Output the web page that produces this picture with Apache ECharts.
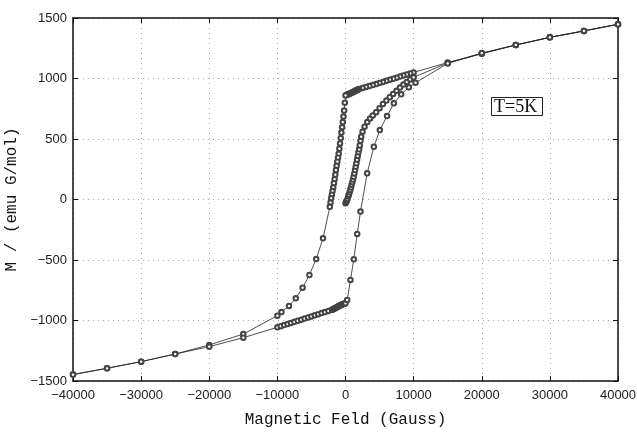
<!DOCTYPE html>
<html>
<head>
<meta charset="utf-8">
<script src="https://cdn.jsdelivr.net/npm/echarts@6/dist/echarts.min.js"></script>
<style>
  html, body { margin: 0; padding: 0; background: #fff; }
  #main { width: 637px; height: 433px; }
</style>
</head>
<body>
<div id="main"></div>
<script>
  // virgin curve, starts near H = 0
  var virginH = [0, 100, 200, 300, 400, 500, 600, 700, 800, 900, 1000, 1100, 1200, 1300, 1400, 1500,
    1600, 1700, 1800, 1900, 2000, 2100, 2200, 2300, 2500, 2800, 3200, 3600, 4000, 4500, 5000, 5500,
    6000, 6500, 7000, 7500, 8000, 8500, 9000, 9500, 10000, 15000, 20000, 25000, 30000, 35000, 40000];
  var virginM = [-30, -20, -10, 5, 25, 40, 60, 78, 100, 122, 143, 165, 188, 215, 243, 270,
    299, 330, 360, 390, 415, 447, 485, 519, 560, 602, 640, 670, 695, 722, 755, 790,
    818, 845, 872, 898, 925, 950, 972, 992, 1010, 1128, 1205, 1277, 1340, 1393, 1448];

  // descending branch, +40000 -> -40000
  var descH = [40000, 35000, 30000, 25000, 20000, 15000, 10000, 9500, 9000, 8500, 8000, 7500, 7000,
    6500, 6000, 5500, 5000, 4500, 4000, 3500, 3000, 2500, 2000, 1900, 1800, 1700, 1600, 1500, 1400,
    1300, 1200, 1100, 1000, 900, 800, 700, 600, 500, 400, 300, 200, 100, 0, -100, -200, -300, -400,
    -500, -600, -700, -800, -900, -1000, -1100, -1200, -1300, -1400, -1500, -1600, -1700, -1800,
    -1900, -2000, -2100, -2200, -2300, -3300, -4300, -5300, -6300, -7300, -8300, -9400, -10000,
    -15000, -20000, -25000, -30000, -35000, -40000];
  var descM = [1448, 1393, 1340, 1277, 1207, 1132, 1050, 1042, 1034, 1025, 1016, 1007, 998,
    990, 981, 972, 963, 954, 946, 938, 930, 922, 914, 911, 908, 905, 902, 899, 896,
    893, 890, 888, 885, 882, 880, 877, 875, 872, 870, 867, 865, 863, 860, 800, 735, 685, 640,
    598, 553, 508, 463, 420, 378, 345, 312, 278, 243, 205, 168, 135, 100,
    70, 40, 10, -25, -60, -321, -492, -624, -729, -817, -880, -930, -960,
    -1112, -1202, -1277, -1340, -1395, -1445];

  // ascending branch, -40000 -> +40000
  var ascH = [-40000, -35000, -30000, -25000, -20000, -15000, -10000, -9500, -9000, -8500, -8000,
    -7500, -7000, -6500, -6000, -5500, -5000, -4500, -4000, -3500, -3000, -2500, -2000, -1900,
    -1800, -1700, -1600, -1500, -1400, -1300, -1200, -1100, -1000, -900, -800, -700, -600, -500,
    -400, -300, -200, -100, 0, 250, 730, 1220, 1720, 2200, 3180, 4160, 5040, 6100, 7100, 8170,
    9300, 10280, 15000, 20000, 25000, 30000, 35000, 40000];
  var ascM = [-1448, -1395, -1340, -1277, -1216, -1142, -1056, -1047, -1038, -1029, -1020,
    -1011, -1002, -993, -984, -975, -966, -957, -948, -939, -930, -921, -912, -909,
    -906, -903, -900, -897, -894, -891, -888, -885, -882, -879, -876, -873, -870, -868,
    -866, -864, -862, -860, -858, -830, -665, -494, -285, -100, 216, 436, 574, 690, 795, 869,
    927, 965, 1125, 1210, 1277, 1340, 1393, 1448];

  var tickFont = 'Liberation Sans';
  var nameFont = 'Liberation Mono';

  function pairs(h, m) {
    return h.map(function (v, i) { return [v, m[i]]; });
  }
  function minus(v) {
    return String(v).replace('-', '\u2212');
  }

  function branch(name, h, m) {
    return {
      name: name,
      type: 'line',
      data: pairs(h, m),
      symbol: 'emptyCircle',
      symbolSize: 4.5,
      showAllSymbol: true,
      lineStyle: { color: '#222', width: 0.8 },
      itemStyle: { color: '#444', borderWidth: 0.6 }
    };
  }

  var chart = echarts.init(document.getElementById('main'));
  chart.setOption({
    animation: false,
    backgroundColor: '#fff',
    title: {
      text: 'T=5K',
      left: 491,
      top: 97,
      padding: [1, 6, 0, 3],
      borderColor: '#222',
      borderWidth: 1,
      textStyle: { fontFamily: 'Liberation Serif', fontSize: 18, fontWeight: 'normal', color: '#111' }
    },
    grid: { left: 73, right: 19, top: 18, bottom: 52, outerBoundsMode: 'none' },
    xAxis: [{
      type: 'value',
      min: -40000,
      max: 40000,
      interval: 10000,
      name: 'Magnetic Feld (Gauss)',
      nameLocation: 'middle',
      nameGap: 31,
      nameTextStyle: { fontFamily: nameFont, fontSize: 16, color: '#111' },
      axisLine: { onZero: false, lineStyle: { color: '#111', width: 1.5 } },
      axisTick: { inside: true, length: 5, lineStyle: { color: '#111' } },
      axisLabel: { formatter: minus, fontFamily: tickFont, fontSize: 13, color: '#222', margin: 8 },
      splitLine: { show: true, lineStyle: { color: '#aaa', type: [1, 4], width: 1 } }
    }, {
      type: 'value',
      position: 'top',
      min: -40000,
      max: 40000,
      interval: 10000,
      axisLine: { onZero: false, lineStyle: { color: '#111', width: 1.5 } },
      axisTick: { inside: true, length: 5, lineStyle: { color: '#111' } },
      axisLabel: { show: false },
      splitLine: { show: false }
    }],
    yAxis: [{
      type: 'value',
      min: -1500,
      max: 1500,
      interval: 500,
      name: 'M / (emu G/mol)',
      nameLocation: 'middle',
      nameGap: 47,
      nameTextStyle: { fontFamily: nameFont, fontSize: 16, color: '#111' },
      axisLine: { show: true, onZero: false, lineStyle: { color: '#111', width: 1.5 } },
      axisTick: { show: true, inside: true, length: 5, lineStyle: { color: '#111' } },
      axisLabel: { formatter: minus, fontFamily: tickFont, fontSize: 13, color: '#222', margin: 6 },
      splitLine: { show: true, lineStyle: { color: '#aaa', type: [1, 4], width: 1 } }
    }, {
      type: 'value',
      position: 'right',
      min: -1500,
      max: 1500,
      interval: 500,
      axisLine: { show: true, onZero: false, lineStyle: { color: '#111', width: 1.5 } },
      axisTick: { show: true, inside: true, length: 5, lineStyle: { color: '#111' } },
      axisLabel: { show: false },
      splitLine: { show: false }
    }],
    series: [
      branch('virgin', virginH, virginM),
      branch('descending', descH, descM),
      branch('ascending', ascH, ascM)
    ]
  });
</script>
</body>
</html>
